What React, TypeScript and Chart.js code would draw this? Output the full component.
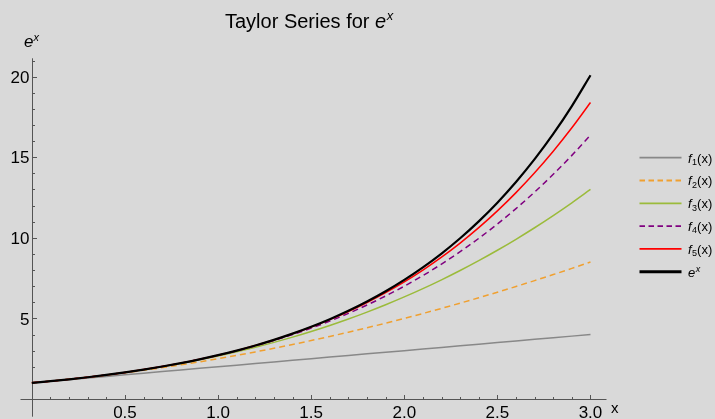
import React, { useEffect, useRef } from "react";
import { Chart, registerables } from "chart.js";

Chart.register(...registerables);

const xs = [0, 0.1, 0.2, 0.3, 0.4, 0.5, 0.6, 0.7, 0.8, 0.9, 1.0, 1.1, 1.2, 1.3, 1.4, 1.5, 1.6, 1.7, 1.8, 1.9, 2.0, 2.1, 2.2, 2.3, 2.4, 2.5, 2.6, 2.7, 2.8, 2.9, 3.0];

const f1 = [1, 1.1, 1.2, 1.3, 1.4, 1.5, 1.6, 1.7, 1.8, 1.9, 2.0, 2.1, 2.2, 2.3, 2.4, 2.5, 2.6, 2.7, 2.8, 2.9, 3.0, 3.1, 3.2, 3.3, 3.4, 3.5, 3.6, 3.7, 3.8, 3.9, 4.0];

const f2 = [1, 1.105, 1.22, 1.345, 1.48, 1.625, 1.78, 1.945, 2.12, 2.305, 2.5, 2.705, 2.92, 3.145, 3.38, 3.625, 3.88, 4.145, 4.42, 4.705, 5.0, 5.305, 5.62, 5.945, 6.28, 6.625, 6.98, 7.345, 7.72, 8.105, 8.5];

const f3 = [1, 1.105167, 1.221333, 1.3495, 1.490667, 1.645833, 1.816, 2.002167, 2.205333, 2.4265, 2.666667, 2.926833, 3.208, 3.511167, 3.837333, 4.1875, 4.562667, 4.963833, 5.392, 5.848167, 6.333333, 6.8485, 7.394667, 7.972833, 8.584, 9.229167, 9.909333, 10.6255, 11.378667, 12.169833, 13.0];

const f4 = [1, 1.105171, 1.2214, 1.349838, 1.491733, 1.648438, 1.8214, 2.012171, 2.2224, 2.453838, 2.708333, 2.987838, 3.2944, 3.630171, 3.9974, 4.398438, 4.835733, 5.311838, 5.8294, 6.391171, 7.0, 7.658838, 8.370733, 9.138838, 9.9664, 10.856771, 11.8134, 12.839838, 13.939733, 15.116838, 16.375];

const f5 = [1, 1.105171, 1.221403, 1.349858, 1.491819, 1.648698, 1.822048, 2.013571, 2.225131, 2.458759, 2.716667, 3.001259, 3.315136, 3.661112, 4.042219, 4.461719, 4.923115, 5.43016, 5.986864, 6.597513, 7.266667, 7.99918, 8.800203, 9.6752, 10.629952, 11.670573, 12.803515, 14.03558, 15.37393, 16.8261, 18.4];

const ex = [1, 1.105171, 1.221403, 1.349859, 1.491825, 1.648721, 1.822119, 2.013753, 2.225541, 2.459603, 2.718282, 3.004166, 3.320117, 3.669297, 4.0552, 4.481689, 4.953032, 5.473947, 6.049647, 6.685894, 7.389056, 8.16617, 9.025013, 9.974182, 11.023176, 12.182494, 13.463738, 14.879732, 16.444647, 18.174145, 20.085537];

const xTickValues = [0.5, 1.0, 1.5, 2.0, 2.5, 3.0];
const xTickLabels = ["0.5", "1.0", "1.5", "2.0", "2.5", "3.0"];
const yTickValues = [5, 10, 15, 20];
const yTickLabels = ["5", "10", "15", "20"];

const seriesSubs = ["1", "2", "3", "4", "5", ""];
const seriesColors = ["#888888", "#f0a030", "#9bbb3b", "#800080", "#ff0000", "#000000"];
const seriesDashed = [false, true, false, true, false, false];
const seriesWidths = [1.5, 1.5, 1.5, 1.5, 1.5, 2.2];
const seriesData = [f1, f2, f3, f4, f5, ex];

const FONT = "'Liberation Sans', Arial, sans-serif";
const AXIS_COLOR = "#555555";

const axesPlugin = {
  id: "mmaAxes",
  beforeDatasetsDraw(chart: any) {
    const { ctx } = chart;
    const xs_ = chart.scales.x;
    const ys_ = chart.scales.y;
    const x0 = Math.round(xs_.getPixelForValue(0)) + 0.5;
    const y0 = Math.round(ys_.getPixelForValue(0)) + 0.5;
    ctx.save();
    ctx.strokeStyle = AXIS_COLOR;
    ctx.lineWidth = 1;
    ctx.beginPath();
    ctx.moveTo(xs_.left, y0);
    ctx.lineTo(xs_.right, y0);
    ctx.moveTo(x0, ys_.top);
    ctx.lineTo(x0, ys_.bottom);
    // x minor ticks
    for (let i = 1; i <= 30; i++) {
      const px = Math.round(xs_.getPixelForValue(i / 10)) + 0.5;
      const len = i % 5 === 0 ? 4.5 : 2.5;
      ctx.moveTo(px, y0);
      ctx.lineTo(px, y0 - len);
    }
    // y ticks
    for (let i = 1; i <= 21; i++) {
      const py = Math.round(ys_.getPixelForValue(i)) + 0.5;
      const len = i % 5 === 0 ? 4.5 : 2.5;
      ctx.moveTo(x0, py);
      ctx.lineTo(x0 + len, py);
    }
    ctx.stroke();

    ctx.fillStyle = "#000000";
    ctx.font = `17px ${FONT}`;
    ctx.textAlign = "center";
    ctx.textBaseline = "alphabetic";
    xTickValues.forEach((v, i) => {
      ctx.fillText(xTickLabels[i], xs_.getPixelForValue(v), 418);
    });
    ctx.textAlign = "right";
    yTickValues.forEach((v, i) => {
      ctx.fillText(yTickLabels[i], x0 - 3, ys_.getPixelForValue(v) + 6.2);
    });

    // axis labels
    ctx.textAlign = "left";
    ctx.font = `15px ${FONT}`;
    ctx.fillText("x", 611, 413);
    ctx.font = `italic 17px ${FONT}`;
    ctx.fillText("e", 24, 47);
    ctx.font = `italic 11px ${FONT}`;
    ctx.fillText("x", 33.5, 40.5);

    // title
    ctx.font = `20px ${FONT}`;
    const t1 = "Taylor Series for ";
    ctx.fillText(t1, 225, 28);
    const w1 = ctx.measureText(t1).width;
    ctx.font = `italic 20px ${FONT}`;
    ctx.fillText("e", 225 + w1, 28);
    const w2 = ctx.measureText("e").width;
    ctx.font = `italic 13px ${FONT}`;
    ctx.fillText("x", 225 + w1 + w2 + 0.5, 20);
    ctx.restore();
  },
  afterDraw(chart: any) {
    const { ctx } = chart;
    ctx.save();
    const legendYs = [157.7, 180.5, 203.3, 226.1, 248.9, 271.7];
    legendYs.forEach((ly, i) => {
      ctx.strokeStyle = seriesColors[i];
      ctx.lineWidth = seriesWidths[i] + (i === 5 ? 0.8 : 0.3);
      ctx.setLineDash(seriesDashed[i] ? [5.5, 3.5] : []);
      ctx.beginPath();
      ctx.moveTo(639.5, ly);
      ctx.lineTo(681.5, ly);
      ctx.stroke();
      ctx.setLineDash([]);
      ctx.fillStyle = "#000000";
      ctx.textAlign = "left";
      ctx.textBaseline = "alphabetic";
      let x = 688;
      const base = ly + 4.8;
      if (i < 5) {
        ctx.font = `italic 13px ${FONT}`;
        ctx.fillText("f", x, base);
        x += ctx.measureText("f").width + 0.5;
        ctx.font = `9px ${FONT}`;
        ctx.fillText(seriesSubs[i], x, base + 2.5);
        x += ctx.measureText(seriesSubs[i]).width;
        ctx.font = `13px ${FONT}`;
        ctx.fillText("(x)", x, base);
      } else {
        ctx.font = `italic 13px ${FONT}`;
        ctx.fillText("e", x, base);
        x += ctx.measureText("e").width;
        ctx.font = `italic 9px ${FONT}`;
        ctx.fillText("x", x + 0.5, base - 5);
      }
    });
    ctx.restore();
  },
};

export default function App() {
  const canvasRef = useRef<HTMLCanvasElement | null>(null);

  useEffect(() => {
    if (!canvasRef.current) return;
    const datasets = seriesData.map((arr, i) => ({
      label: i < 5 ? `f${seriesSubs[i]}(x)` : "e^x",
      data: xs.map((x, j) => ({ x, y: arr[j] })),
      borderColor: seriesColors[i],
      backgroundColor: seriesColors[i],
      borderWidth: seriesWidths[i],
      borderDash: seriesDashed[i] ? [6, 4] : [],
      pointRadius: 0,
      fill: false,
      cubicInterpolationMode: "monotone" as const,
      order: 5 - i,
    }));
    const chart = new Chart(canvasRef.current, {
      type: "line",
      data: { datasets },
      options: {
        animation: false,
        responsive: false,
        devicePixelRatio: 1,
        layout: { padding: { left: 20.5, right: 108.5, top: 58.3, bottom: 2.3 } },
        plugins: { legend: { display: false }, tooltip: { enabled: false }, title: { display: false } },
        scales: {
          x: { type: "linear", min: -0.061, max: 3.086, display: false },
          y: { type: "linear", min: -1.1, max: 21.14, display: false },
        },
        events: [],
      },
      plugins: [axesPlugin],
    });
    return () => chart.destroy();
  }, []);

  return (
    <div style={{ position: "fixed", left: 0, top: 0, width: 715, height: 419, background: "#d9d9d9" }}>
      <canvas ref={canvasRef} width={715} height={419} style={{ display: "block", width: 715, height: 419 }} />
    </div>
  );
}
